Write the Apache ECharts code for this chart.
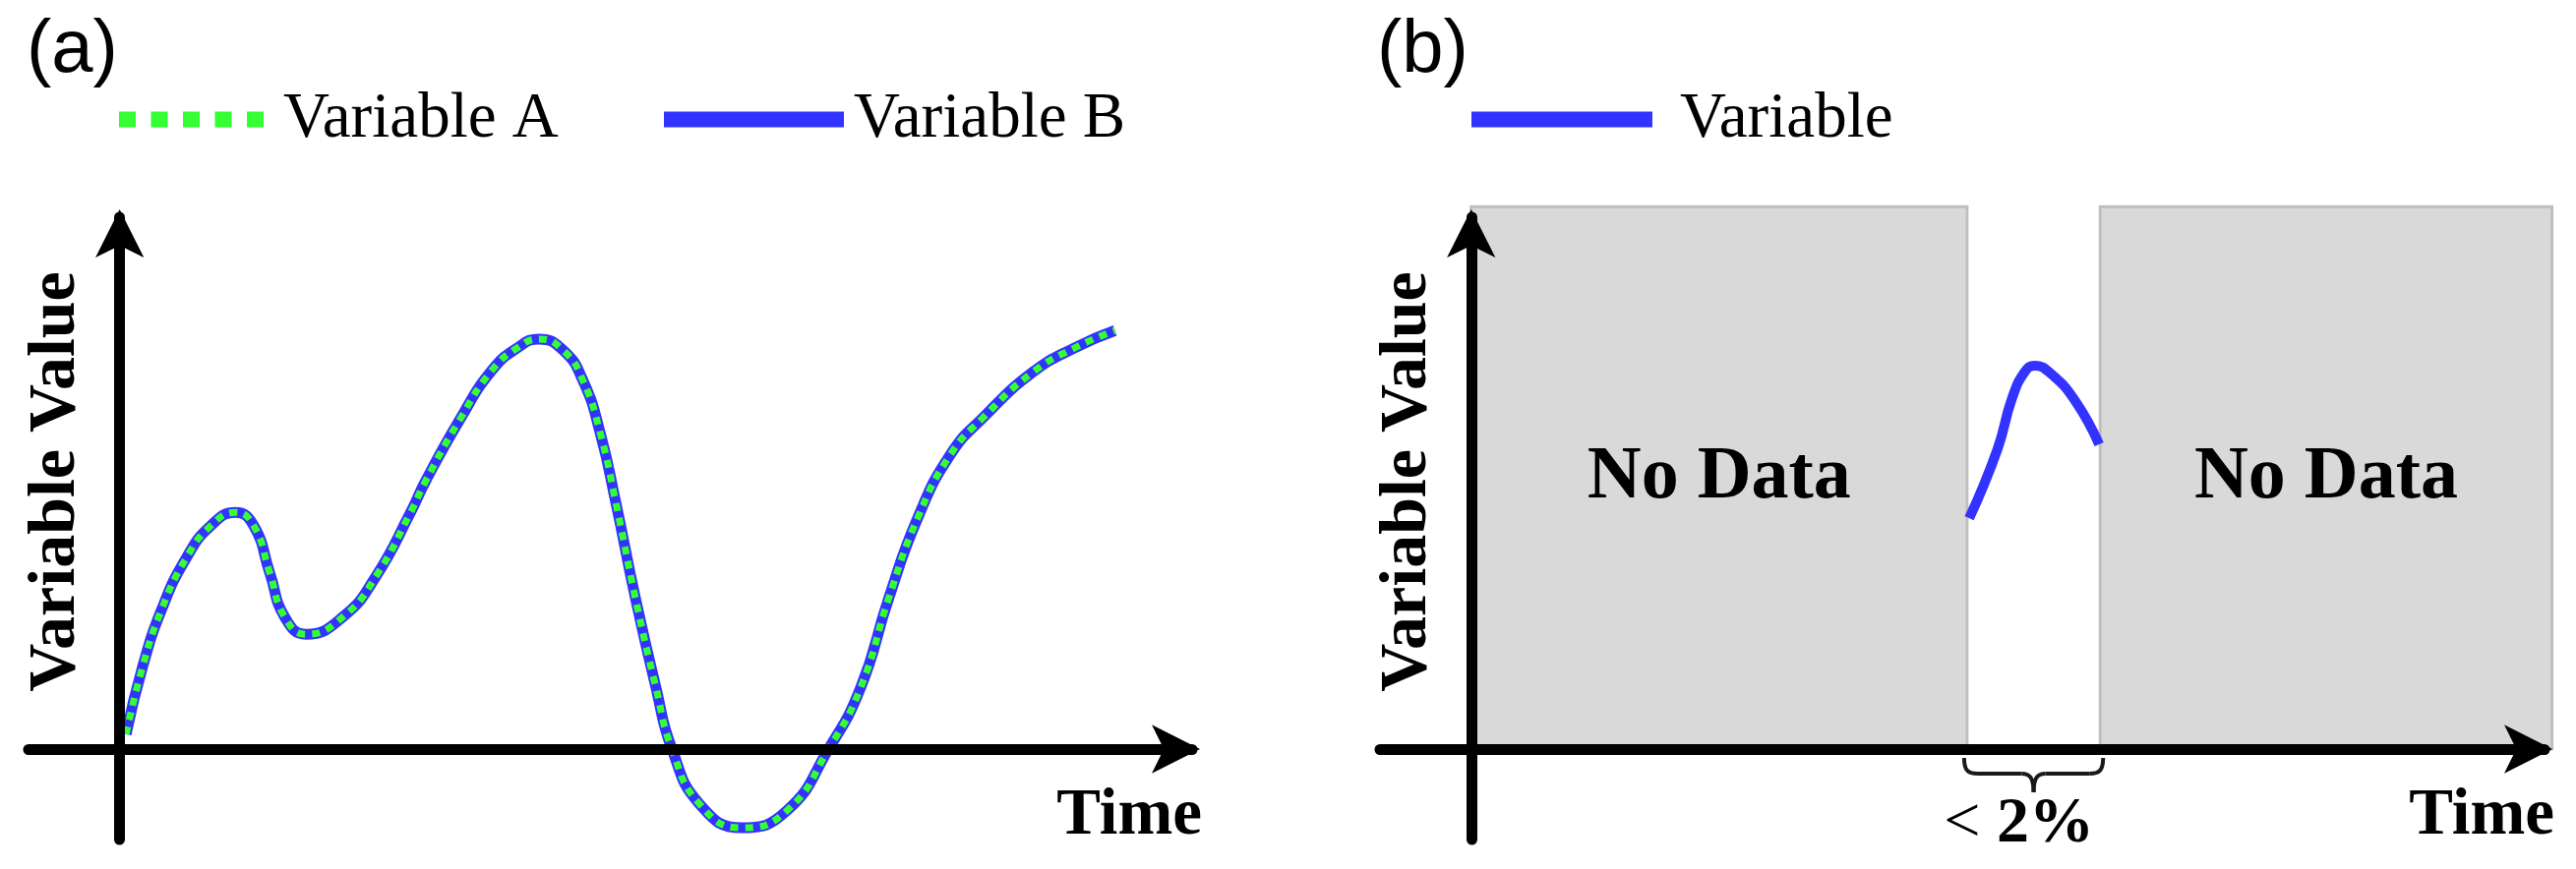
<!DOCTYPE html>
<html>
<head>
<meta charset="utf-8">
<title>Variable value over time</title>
<script src="https://cdn.jsdelivr.net/npm/echarts@6/dist/echarts.min.js"></script>
<style>
  html, body { margin: 0; padding: 0; background: #fff; }
  #main { width: 2619px; height: 884px; }
</style>
</head>
<body>
<div id="main"></div>
<script>
// panel (a) - the curve, time / value
var timeA = [0.6, 2.1, 3.9, 6.2, 8.5, 10.8, 12.5, 14.0, 15.4, 17.4, 20.9, 23.9, 27.1, 28.5, 31.7, 34.7, 37.2, 39.1,
  41.4, 43.2, 44.8, 46.3, 48.1, 50.0, 51.5, 54.1, 58.0, 62.2, 66.1, 69.1, 71.7, 74.4, 77.5, 80.6, 85.1, 89.0, 92.8];
var valueA = [2.8, 15.2, 26.2, 35.9, 42.0, 44.5, 42.0, 33.1, 24.8, 21.6, 25.0, 32.5, 44.4, 50.3, 61.9, 71.2, 75.6, 77.1,
  74.9, 69.3, 59.5, 46.0, 28.3, 11.6, 0, -10.4, -14.8, -11.6, 0, 11.6, 28.3, 43.4, 55.5, 62.5, 70.8, 75.4, 78.7];
// Variable B sits exactly under Variable A
var valueB = valueA.slice();

// panel (b) - short piece of data between two gaps
var timeB = [46.4, 49.0, 50.4, 51.6, 52.5, 54.0, 56.3, 58.5];
var valueVar = [43.4, 56.2, 66.0, 71.0, 72.1, 70.6, 65.4, 57.3];
var noDataSpans = [[0, 46.2], [58.6, 100.7]];
var noDataTop = 102;
var gapSpan = [46.2, 58.6];
var gapLabel = ['<', '2%'];
var axisNames = { x: 'Time', y: 'Variable Value' };

var serif = 'Liberation Serif, Times New Roman, serif';
var sans = 'Liberation Sans, Arial, sans-serif';
var blue = '#3333ff', green = '#33ff33';

function pairs(xs, ys) {
  return xs.map(function (x, i) { return [x, ys[i]]; });
}

function xAxisOf(idx) {
  return {
    type: 'value', gridIndex: idx, min: -8.5, max: 100, z: 10,
    splitLine: { show: false }, axisTick: { show: false }, axisLabel: { show: false },
    axisLine: { onZero: true, symbol: ['none', 'arrow'], symbolSize: [37, 49], symbolOffset: [0, 8],
      lineStyle: { color: '#000', width: 11 } },
    name: axisNames.x, nameLocation: 'end', nameGap: 10,
    nameTextStyle: { fontFamily: serif, fontWeight: 'bold', fontSize: 67, color: '#000',
      align: 'right', verticalAlign: 'top', padding: [35, 0, 0, 0] }
  };
}
function yAxisOf(idx) {
  return {
    type: 'value', gridIndex: idx, min: -17, max: 100, z: 10,
    splitLine: { show: false }, axisTick: { show: false }, axisLabel: { show: false },
    axisLine: { onZero: true, symbol: ['none', 'arrow'], symbolSize: [37, 49], symbolOffset: [0, 8],
      lineStyle: { color: '#000', width: 11 } }
  };
}
function legendOf(name, left, w, icon, padLeft) {
  return {
    data: [{ name: name, icon: icon }], left: left, top: 89, padding: 0,
    itemWidth: w, itemHeight: 16, selectedMode: false,
    textStyle: { fontFamily: serif, fontSize: 65, color: '#000', padding: [0, 0, 0, padLeft] }
  };
}

var dashIcon = 'path://M0 0H17V16H0Z M32.5 0H49.5V16H32.5Z M65 0H82V16H65Z M97.5 0H114.5V16H97.5Z M130 0H147V16H130Z';
var panelTitle = { fontFamily: sans, fontSize: 76, fontWeight: 'normal', color: '#000' };

var chart = echarts.init(document.getElementById('main'));
chart.setOption({
  animation: false,
  backgroundColor: '#fff',
  title: [
    { text: '(a)', left: 27, top: 14, padding: 0, textStyle: panelTitle },
    { text: '(b)', left: 1400, top: 14, padding: 0, textStyle: panelTitle }
  ],
  legend: [
    legendOf('Variable A', 121, 147, dashIcon, 15),
    legendOf('Variable B', 675, 183, 'rect', 5),
    legendOf('Variable', 1496, 184, 'rect', 23)
  ],
  grid: [
    { left: 29, top: 221, width: 1183, height: 633, outerBoundsMode: 'none', containLabel: false },
    { left: 1403, top: 221, width: 1184, height: 633, outerBoundsMode: 'none', containLabel: false }
  ],
  xAxis: [xAxisOf(0), xAxisOf(1)],
  yAxis: [yAxisOf(0), yAxisOf(1)],
  series: [
    {
      name: 'Variable B', type: 'line', xAxisIndex: 0, yAxisIndex: 0, z: 2,
      data: pairs(timeA, valueB), smooth: 0.5, symbol: 'none',
      lineStyle: { color: blue, width: 11 }, itemStyle: { color: blue }
    },
    {
      name: 'Variable A', type: 'line', xAxisIndex: 0, yAxisIndex: 0, z: 3,
      data: pairs(timeA, valueA), smooth: 0.5, symbol: 'none',
      lineStyle: { color: green, width: 7, type: [8, 7] }, itemStyle: { color: green }
    },
    {
      // grey "No Data" blocks
      name: 'No Data', type: 'custom', xAxisIndex: 1, yAxisIndex: 1, z: 1, clip: false, silent: true,
      data: noDataSpans.map(function (s) { return [s[0], s[1], noDataTop]; }),
      encode: { x: [0, 1], y: 2 },
      renderItem: function (params, api) {
        var tl = api.coord([api.value(0), api.value(2)]);
        var br = api.coord([api.value(1), 0]);
        return {
          type: 'rect',
          shape: { x: tl[0], y: tl[1], width: br[0] - tl[0], height: br[1] - tl[1] },
          style: { fill: '#d9d9d9', stroke: '#bfbfbf', lineWidth: 3 },
          textContent: { style: { text: 'No Data', fontFamily: serif, fontSize: 76, fontWeight: 'bold', fill: '#000' } },
          textConfig: { position: 'inside' }
        };
      }
    },
    {
      name: 'Variable', type: 'line', xAxisIndex: 1, yAxisIndex: 1, z: 3,
      data: pairs(timeB, valueVar), smooth: 0.5, symbol: 'none',
      lineStyle: { color: blue, width: 10 }, itemStyle: { color: blue }
    }
  ]
});

// rotated y-axis names, brace under the gap and its label
var graphics = [];
[0, 1].forEach(function (gi) {
  var o = chart.convertToPixel({ gridIndex: gi }, [0, 0]);
  graphics.push({
    type: 'text', x: o[0] - 64, y: 490, rotation: Math.PI / 2, z: 20,
    style: { text: axisNames.y, align: 'center', verticalAlign: 'middle', fill: '#000',
      fontFamily: serif, fontWeight: 'bold', fontSize: 68 }
  });
});

var p0 = chart.convertToPixel({ gridIndex: 1 }, [gapSpan[0], 0]);
var p1 = chart.convertToPixel({ gridIndex: 1 }, [gapSpan[1], 0]);
var L = p0[0] - 3, R = p1[0] + 3, M = (L + R) / 2, T = p0[1] + 9;
var braceStyle = { fill: 'none', stroke: '#1a1a1a', lineWidth: 4 };
function bez(x1, y1, c1x, c1y, c2x, c2y, x2, y2) {
  return { type: 'bezierCurve', z: 20, style: braceStyle,
    shape: { x1: x1, y1: y1, cpx1: c1x, cpy1: c1y, cpx2: c2x, cpy2: c2y, x2: x2, y2: y2 } };
}
function seg(x1, y1, x2, y2) {
  return { type: 'line', z: 20, style: braceStyle, shape: { x1: x1, y1: y1, x2: x2, y2: y2 } };
}
graphics.push(
  bez(L, T, L, T + 13, L + 4, T + 16, L + 14, T + 16),
  seg(L + 14, T + 16, M - 12, T + 16),
  bez(M - 12, T + 16, M - 4, T + 16, M, T + 20, M, T + 35),
  bez(M, T + 35, M, T + 20, M + 4, T + 16, M + 12, T + 16),
  seg(M + 12, T + 16, R - 14, T + 16),
  bez(R - 14, T + 16, R - 4, T + 16, R, T + 13, R, T),
  {
    type: 'text', x: M - 15, y: T + 35, z: 20,
    style: {
      text: '{r|' + gapLabel[0] + '} {b|' + gapLabel[1] + '}',
      align: 'center', verticalAlign: 'top', fill: '#000',
      fontFamily: serif, fontSize: 66, lineHeight: 66,
      rich: {
        r: { fontFamily: serif, fontSize: 66, fontWeight: 'normal', lineHeight: 66 },
        b: { fontFamily: serif, fontSize: 66, fontWeight: 'bold', lineHeight: 66 }
      }
    }
  }
);
chart.setOption({ graphic: graphics });
</script>
</body>
</html>
